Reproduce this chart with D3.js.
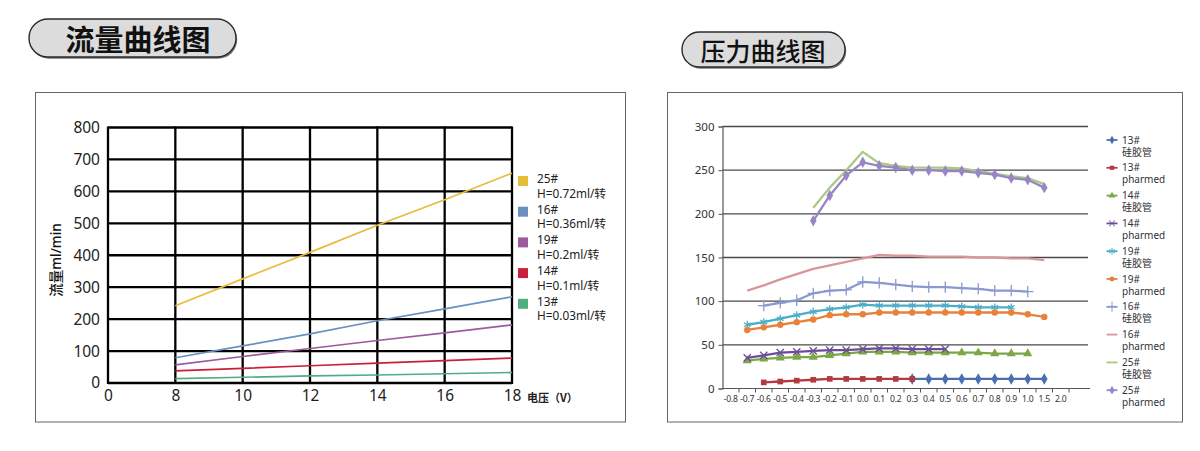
<!DOCTYPE html>
<html><head><meta charset="utf-8">
<script src="https://cdn.jsdelivr.net/npm/d3@7"></script>
<style>body{margin:0;background:#fff}svg{display:block}</style>
</head><body><svg id="c" width="1200" height="451"></svg>
<script>
// ---------- Left chart: 流量曲线图 ----------
const flowVoltages = ["0","8","10","12","14","16","18"];
const flowTicks = [0,100,200,300,400,500,600,700,800];
const flowNames = ["25#","16#","19#","14#","13#"];
const flowSubs = ["H=0.72ml/转","H=0.36ml/转","H=0.2ml/转","H=0.1ml/转","H=0.03ml/转"];
const flowColors = ["#e6bd3a","#6a8fc2","#9c5a9c","#c8203a","#4fae80"];
const flow25 = [242,326,409,494,574,657];
const flow16 = [79,116,154,195,232,270];
const flow19 = [57,83,108,133,157,182];
const flow14 = [38,46,54,62,70,78];
const flow13 = [14,18,22,25,29,33];
const flowSeries = [flow25,flow16,flow19,flow14,flow13];

// ---------- Right chart: 压力曲线图 ----------
const pressCats = ["-0.8","-0.7","-0.6","-0.5","-0.4","-0.3","-0.2","-0.1","0.0","0.1","0.2","0.3","0.4","0.5","0.6","0.7","0.8","0.9","1.0","1.5","2.0",""];
const pressTicks = [0,50,100,150,200,250,300];
const pressNames = ["13#\n硅胶管","13#\npharmed","14#\n硅胶管","14#\npharmed","19#\n硅胶管","19#\npharmed","16#\n硅胶管","16#\npharmed","25#\n硅胶管","25#\npharmed"];
const pressColors = ["#4a6fae","#b23a40","#7aa845","#6d4d99","#4aaec8","#e8823a","#8a9ad0","#d9969b","#a8ca84","#9985c4"];
const pressStart = ["0.3","-0.6","-0.7","-0.7","-0.7","-0.7","-0.6","-0.7","-0.3","-0.3"];
const p13Sil = [11,11,11,11,11,11,11,11,11];
const p13Ph = [7,8,9,10,11,11,11,11,11,11];
const p14Sil = [32,34,35,36,36,38,40,42,42,42,41,41,41,41,41,40,40,40];
const p14Ph = [35,38,41,42,43,44,44,45,46,46,45,45,45];
const p19Sil = [73,76,80,84,88,91,93,96,95,95,95,95,95,94,93,93,93];
const p19Ph = [67,70,73,76,79,84,85,85,87,87,87,87,87,87,87,87,87,85,82];
const p16Sil = [95,98,101,109,112,113,122,121,119,117,116,116,115,114,112,112,111];
const p16Ph = [112,118,125,131,137,141,145,149,153,152,152,151,151,151,150,150,149,149,147];
const p25Sil = [207,230,250,271,258,255,253,253,253,252,249,246,243,241,234];
const p25Ph = [192,221,244,259,255,253,250,250,249,249,247,245,241,239,230];
const pressSeries = [p13Sil,p13Ph,p14Sil,p14Ph,p19Sil,p19Ph,p16Sil,p16Ph,p25Sil,p25Ph];
const pressMarkers = ["diamond","square","triangle","times","asterisk","circle","plus",null,null,"diamond"];

const svg = d3.select("#c");
const FONT = "'Noto Sans','Noto Sans CJK SC',sans-serif";

// ---------- title pills ----------
function pill(x,y,w,h,text,size,weight,tx,ty){
  svg.append("rect").attr("x",x+1.2).attr("y",y+1.8).attr("width",w).attr("height",h)
    .attr("rx",h/2).attr("fill","#777");
  svg.append("rect").attr("x",x).attr("y",y).attr("width",w).attr("height",h)
    .attr("rx",h/2).attr("fill","#dcdcdc").attr("stroke","#2b2b2b").attr("stroke-width",1.4);
  svg.append("text").attr("x",tx).attr("y",ty).attr("text-anchor","middle")
    .attr("dominant-baseline","central").attr("font-family","'Noto Sans CJK SC',sans-serif")
    .attr("font-size",size).attr("font-weight",weight).attr("fill","#111").text(text);
}
pill(29,19,207,38,"流量曲线图",29,700,138,38);
pill(682,32,163,35,"压力曲线图",25,500,763,50);

// ---------- frames ----------
svg.append("rect").attr("x",35.5).attr("y",92.5).attr("width",590).attr("height",329.5)
  .attr("fill","none").attr("stroke","#666").attr("stroke-width",1);
svg.append("rect").attr("x",667.5).attr("y",92.5).attr("width",515).attr("height",329.5)
  .attr("fill","none").attr("stroke","#666").attr("stroke-width",1);

// ---------- left chart ----------
{
  const x = d3.scalePoint().domain(flowVoltages).range([108,512]);
  const y = d3.scaleLinear().domain([0,800]).range([383,127.5]);
  const g = svg.append("g");
  g.selectAll(".h").data(flowTicks).join("line")
    .attr("x1",108).attr("x2",512).attr("y1",d=>y(d)).attr("y2",d=>y(d))
    .attr("stroke","#000").attr("stroke-width",2.3);
  g.selectAll(".v").data(flowVoltages).join("line")
    .attr("x1",d=>x(d)).attr("x2",d=>x(d)).attr("y1",y(0)+1).attr("y2",y(800)-1)
    .attr("stroke","#000").attr("stroke-width",2.3);
  const ya = d3.axisLeft(y).tickValues(flowTicks).tickSize(0).tickPadding(8);
  const yg = g.append("g").attr("transform","translate(108,0)").call(ya);
  yg.select(".domain").remove();
  yg.selectAll("text").attr("font-family",FONT).attr("font-size",15.5).attr("fill","#222");
  const xa = d3.axisBottom(x).tickSize(0).tickPadding(6);
  const xg = g.append("g").attr("transform","translate(0,384)").call(xa);
  xg.select(".domain").remove();
  xg.selectAll("text").attr("font-family",FONT).attr("font-size",15.5).attr("fill","#222");
  g.append("text").attr("transform","translate(61,260) rotate(-90)").attr("text-anchor","middle")
    .attr("font-family",FONT).attr("font-size",13.5).attr("fill","#111").attr("font-weight",500).text("流量ml/min");
  g.append("text").attr("x",527).attr("y",397).attr("dominant-baseline","central")
    .attr("font-family","'Noto Sans CJK SC',sans-serif").attr("font-size",11).attr("font-weight",700)
    .attr("fill","#222").text("电压（V）");
  const line = d3.line().x((d,i)=>x(flowVoltages[i+1])).y(d=>y(d));
  flowSeries.forEach((s,k)=>{
    g.append("path").attr("d",line(s)).attr("fill","none")
      .attr("stroke",flowColors[k]).attr("stroke-width",1.7);
  });
  flowNames.forEach((n,k)=>{
    const top = 176 + k*30.7;
    g.append("rect").attr("x",518).attr("y",top).attr("width",10).attr("height",10).attr("fill",flowColors[k]);
    g.append("text").attr("x",537).attr("y",top+7).attr("font-family",FONT).attr("font-size",11.8)
      .attr("fill","#222").text(n);
    g.append("text").attr("x",537).attr("y",top+21.5).attr("font-family",FONT).attr("font-size",11.8)
      .attr("fill","#222").text(flowSubs[k]);
  });
}

// ---------- right chart ----------
{
  const x = d3.scaleBand().domain(pressCats).range([722.5,1085.5]).padding(0);
  const cx = c => x(c) + x.bandwidth()/2;
  const y = d3.scaleLinear().domain([0,300]).range([388.5,126.5]);
  const g = svg.append("g");
  g.selectAll(".h").data(pressTicks.slice(1)).join("line")
    .attr("x1",722.5).attr("x2",1088).attr("y1",d=>y(d)).attr("y2",d=>y(d))
    .attr("stroke","#4a4a4a").attr("stroke-width",1.4);
  const ya = d3.axisLeft(y).tickValues(pressTicks).tickSize(4).tickPadding(4);
  const yg = g.append("g").attr("transform","translate(722.5,0)").call(ya);
  yg.select(".domain").attr("stroke","#555").attr("stroke-width",1.2);
  yg.selectAll(".tick line").attr("stroke","#555");
  yg.selectAll("text").attr("font-family",FONT).attr("font-size",11.5).attr("fill","#333");
  g.append("line").attr("x1",722.5).attr("x2",1090).attr("y1",y(0)).attr("y2",y(0))
    .attr("stroke","#555").attr("stroke-width",1.2);
  const bounds = pressCats.slice(1).map(c=>x(c));
  g.selectAll(".xt").data(bounds).join("line")
    .attr("x1",d=>d).attr("x2",d=>d).attr("y1",y(0)).attr("y2",y(0)+4)
    .attr("stroke","#555").attr("stroke-width",1);
  g.selectAll(".xl").data(pressCats.filter(c=>c!=="")).join("text")
    .attr("x",d=>cx(d)).attr("y",399).attr("text-anchor","middle").attr("dominant-baseline","central")
    .attr("font-family",FONT).attr("font-size",8.6).attr("letter-spacing",-0.2).attr("fill","#333").text(d=>d);

  const symType = {diamond:d3.symbolDiamond,square:d3.symbolSquare,triangle:d3.symbolTriangle,
    circle:d3.symbolCircle,times:d3.symbolTimes,asterisk:d3.symbolAsterisk,plus:d3.symbolPlus};
  const symSize = {diamond:38,square:32,triangle:36,circle:32,times:36,asterisk:42,plus:44};
  const stroked = {times:1,asterisk:1,plus:1};

  function drawMarker(sel,m,color,px,py){
    const p = sel.append("path").attr("transform",`translate(${px},${py})`)
      .attr("d",d3.symbol(symType[m],symSize[m])());
    if(stroked[m]) p.attr("fill","none").attr("stroke",color).attr("stroke-width",1.3);
    else p.attr("fill",color);
  }

  pressSeries.forEach((s,k)=>{
    const i0 = pressCats.indexOf(pressStart[k]);
    const pts = s.map((v,j)=>[cx(pressCats[i0+j]), y(v)]);
    g.append("path").attr("d",d3.line()(pts)).attr("fill","none")
      .attr("stroke",pressColors[k]).attr("stroke-width",2.3).attr("stroke-linejoin","round");
    const m = pressMarkers[k];
    if(m) pts.forEach(p=>drawMarker(g,m,pressColors[k],p[0],p[1]));
  });

  pressNames.forEach((n,k)=>{
    const ly = 140 + k*27.8;
    g.append("line").attr("x1",1106.5).attr("x2",1117.5).attr("y1",ly).attr("y2",ly)
      .attr("stroke",pressColors[k]).attr("stroke-width",1.8);
    const m = pressMarkers[k];
    if(m){
      const sz = {diamond:22,square:18,triangle:20,circle:18,times:24,asterisk:30,plus:36}[m];
      const p = g.append("path").attr("transform",`translate(1112,${ly})`).attr("d",d3.symbol(symType[m],sz)());
      if(stroked[m]) p.attr("fill","none").attr("stroke",pressColors[k]).attr("stroke-width",1);
      else p.attr("fill",pressColors[k]);
    }
    const parts = n.split("\n");
    g.append("text").attr("x",1122).attr("y",ly+3.5).attr("font-family",FONT).attr("font-size",10)
      .attr("fill","#333").text(parts[0]);
    g.append("text").attr("x",1122).attr("y",ly+15.5).attr("font-family",FONT).attr("font-size",10)
      .attr("fill","#333").text(parts[1]);
  });
}
</script></body></html>
